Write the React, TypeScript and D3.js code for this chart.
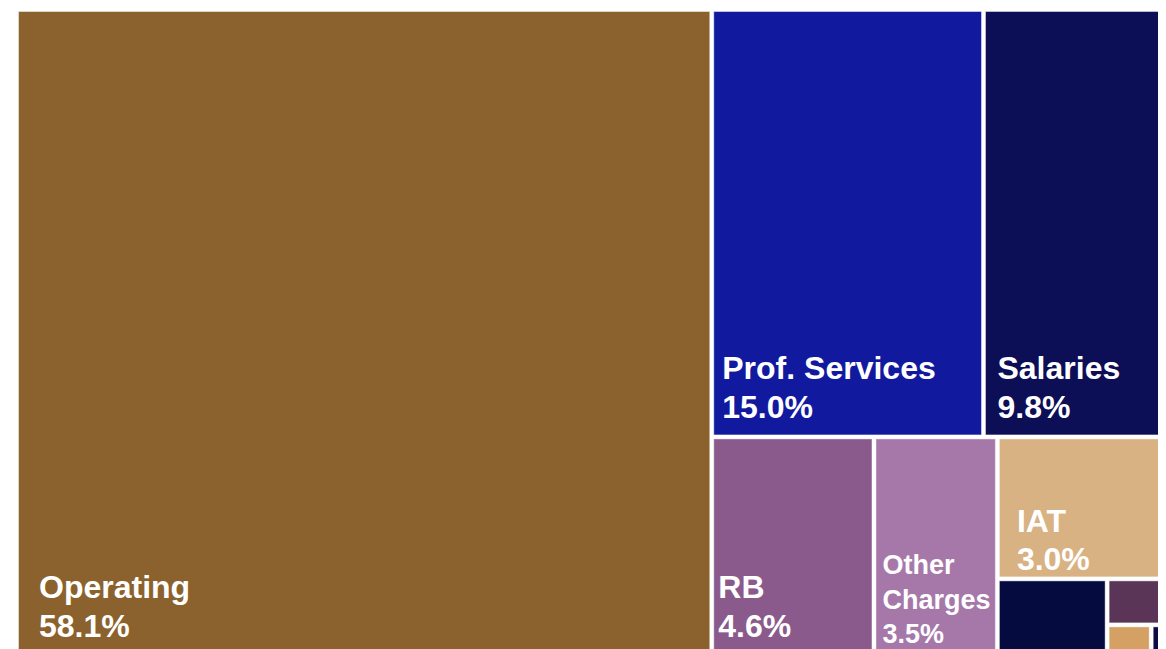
import React from "react";
import * as d3 from "d3";

// ---- data (shares of total, in %) ----
const categories = [
  "Operating",
  "Prof. Services",
  "Salaries",
  "RB",
  "Other Charges",
  "IAT",
  "Minor A",
  "Minor B",
  "Minor C",
  "Minor D",
];
const shares = [58.1, 15.0, 9.8, 4.6, 3.5, 3.0, 1.1, 0.32, 0.18, 0.04];
const labelled = [true, true, true, true, true, true, false, false, false, false];
const colors = [
  "#8B622D",
  "#111A9F",
  "#0C0E56",
  "#8A5A8D",
  "#A678AA",
  "#D8B283",
  "#050A3F",
  "#5A3557",
  "#D4A063",
  "#0B0C45",
];

// ---- presentation ----
const SVG_W = 1150;
const SVG_H = 660;
const OFF_X = 10;
const OFF_Y = 3;
const CHART_W = 1141.5;
const CHART_H = 644;

type LabelStyle = { dx: number; db: number; fs: number; lh: number; lines?: string[] };
const labelStyles: Record<string, LabelStyle> = {
  "Operating": { dx: 21, db: 18, fs: 32, lh: 39 },
  "Prof. Services": { dx: 9, db: 17, fs: 32, lh: 39 },
  "Salaries": { dx: 12.5, db: 17, fs: 32, lh: 39 },
  "RB": { dx: 5, db: 18, fs: 32, lh: 39 },
  "Other Charges": { dx: 7, db: 12, fs: 27, lh: 34.5, lines: ["Other", "Charges"] },
  "IAT": { dx: 18, db: 7, fs: 32, lh: 38 },
};

// Strip tiling: rows run along the shorter side; a row is closed as soon as
// adding the next item would worsen the aspect ratio of the previous item.
function stripTile(parent: any, x0: number, y0: number, x1: number, y1: number) {
  const nodes = parent.children;
  const n = nodes.length;
  let value = parent.value;
  let i = 0;
  while (i < n) {
    const dx = x1 - x0;
    const dy = y1 - y0;
    const vertical = dx >= dy;
    const L = vertical ? dy : dx;
    const k = value > 0 ? (dx * dy) / value : 0;
    let sum = nodes[i].value;
    let j = i + 1;
    while (j < n) {
      const prev = nodes[j - 1].value * k;
      const tOld = (sum * k) / L;
      const lOld = prev / tOld;
      const rOld = Math.max(tOld / lOld, lOld / tOld);
      const tNew = ((sum + nodes[j].value) * k) / L;
      const lNew = prev / tNew;
      const rNew = Math.max(tNew / lNew, lNew / tNew);
      if (rNew > rOld) break;
      sum += nodes[j].value;
      j++;
    }
    const row = { value: sum, children: nodes.slice(i, j) };
    const last = j >= n;
    if (vertical) {
      const xe = last ? x1 : x0 + (dx * sum) / value;
      d3.treemapSlice(row as any, x0, y0, xe, y1);
      x0 = xe;
    } else {
      const ye = last ? y1 : y0 + (dy * sum) / value;
      d3.treemapDice(row as any, x0, y0, x1, ye);
      y0 = ye;
    }
    value -= sum;
    i = j;
  }
}

const fmt = d3.format(".1f");

export default function App() {
  const items = categories.map((name, i) => ({
    name,
    value: shares[i],
    color: colors[i],
    labelled: labelled[i],
  }));
  const root = d3
    .hierarchy<any>({ name: "root", children: items })
    .sum((d: any) => (d.children ? 0 : d.value))
    .sort((a: any, b: any) => b.value - a.value);
  d3.treemap<any>().tile(stripTile as any).size([CHART_W, CHART_H]).paddingInner(3)(root);
  const leaves = root.leaves() as any[];

  return (
    <svg width={SVG_W} height={SVG_H} style={{ display: "block" }}>
      <g transform={`translate(${OFF_X},${OFF_Y})`}>
        {leaves.map((lf, i) => (
          <rect
            key={"r" + i}
            x={lf.x0 + 0.5}
            y={lf.y0 + 0.5}
            width={Math.max(0, lf.x1 - lf.x0 - 1)}
            height={Math.max(0, lf.y1 - lf.y0 - 1)}
            fill={lf.data.color}
            stroke="rgba(255,255,255,0.45)"
            strokeWidth={1}
          />
        ))}
        {leaves.map((lf, i) => {
          if (!lf.data.labelled) return null;
          const st = labelStyles[lf.data.name];
          const lines = [...(st.lines || [lf.data.name]), fmt(lf.data.value) + "%"];
          const baseY = lf.y1 - st.db;
          return (
            <text
              key={"t" + i}
              fill="#ffffff"
              fontFamily="'Liberation Sans', Arial, sans-serif"
              fontWeight="bold"
              fontSize={st.fs}
            >
              {lines.map((ln, j) => (
                <tspan key={j} x={lf.x0 + st.dx} y={baseY - (lines.length - 1 - j) * st.lh}>
                  {ln}
                </tspan>
              ))}
            </text>
          );
        })}
      </g>
    </svg>
  );
}
